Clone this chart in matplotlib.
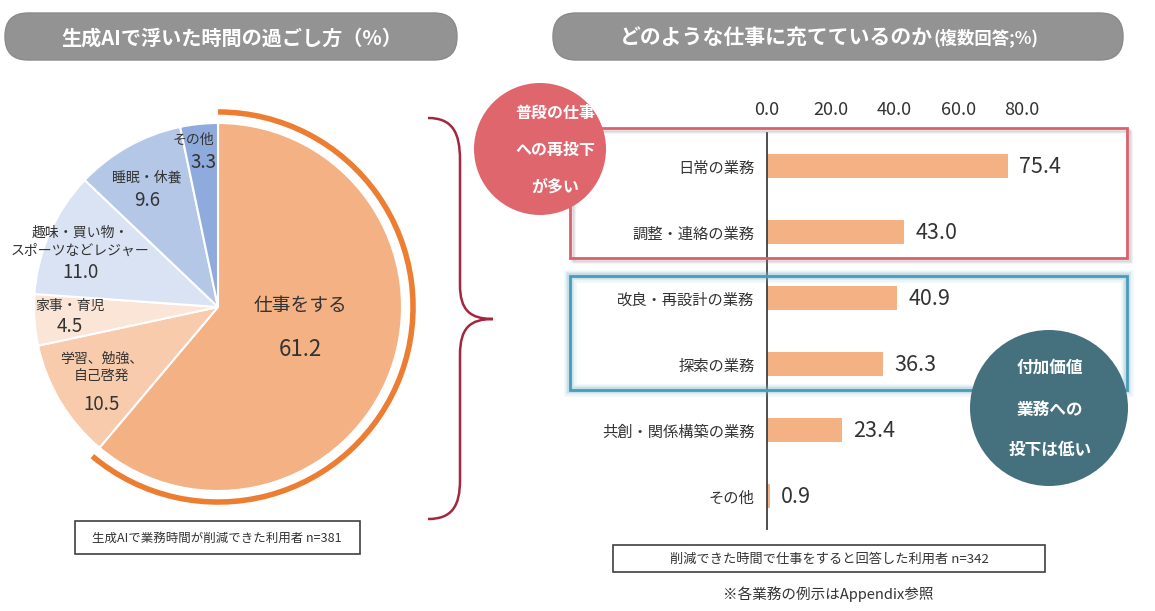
import numpy as np
import matplotlib
matplotlib.use("Agg")
import matplotlib.pyplot as plt
from matplotlib.patches import FancyBboxPatch, Rectangle, Ellipse, Wedge, PathPatch
from matplotlib.path import Path

plt.rcParams['font.family'] = ['Noto Sans CJK JP', 'DejaVu Sans']

# 左: 生成AIで浮いた時間の過ごし方（%）
pie_labels = ["仕事をする", "学習、勉強、\n自己啓発", "家事・育児",
              "趣味・買い物・\nスポーツなどレジャー", "睡眠・休養", "その他"]
pie_values = [61.2, 10.5, 4.5, 11.0, 9.6, 3.3]
pie_colors = ["#F4B183", "#F8CBAD", "#FBE5D6", "#DAE3F3", "#B4C7E7", "#8FAADC"]

# 右: どのような仕事に充てているのか（複数回答;%）
bar_labels = ["日常の業務", "調整・連絡の業務", "改良・再設計の業務",
              "探索の業務", "共創・関係構築の業務", "その他"]
bar_values = [75.4, 43.0, 40.9, 36.3, 23.4, 0.9]
x_ticks = [0, 20, 40, 60, 80]

W, H = 1155, 611
fig = plt.figure(figsize=(W / 100, H / 100), dpi=100)


def fx(px):
    return px / W


def fy(py):
    return 1 - py / H


txt = "#333333"

# ---- 円グラフ ----
cx, cy, r_px, half = 218, 307, 184, 210
axp = fig.add_axes([fx(cx - half), fy(cy + half), 2 * half / W, 2 * half / H])
lim = half / r_px
axp.pie(pie_values, colors=pie_colors, startangle=90, counterclock=False,
        radius=1.0, wedgeprops=dict(edgecolor="white", linewidth=1.5))
axp.set_xlim(-lim, lim)
axp.set_ylim(-lim, lim)
axp.set_aspect("equal")
axp.axis("off")
# 仕事をする の外側の強調アーク
axp.add_patch(Wedge((0, 0), 1.075, 90 - pie_values[0] * 360 / sum(pie_values), 90,
                    width=0.03, facecolor="#ED7D31", edgecolor="none"))

# ---- 棒グラフ ----
top, bottom = 133, 529
x0_px, x100_px = 767, 1086
axb = fig.add_axes([fx(x0_px), fy(bottom), (x100_px - x0_px) / W, (bottom - top) / H])
ypos = np.arange(len(bar_values))
axb.barh(ypos, bar_values, height=0.36, color="#F4B183")
axb.set_xlim(0, 100)
axb.set_ylim(len(bar_values) - 0.5, -0.5)
axb.set_yticks(ypos)
axb.set_yticklabels(bar_labels, fontsize=11, color=txt)
axb.xaxis.tick_top()
axb.set_xticks(x_ticks)
axb.set_xticklabels([f"{v:.1f}" for v in x_ticks], fontsize=13, color=txt)
axb.tick_params(axis="x", length=0, pad=10)
axb.tick_params(axis="y", length=0, pad=9)
for s in ["top", "right", "bottom"]:
    axb.spines[s].set_visible(False)
axb.spines["left"].set_color("#404040")
axb.spines["left"].set_linewidth(1.3)
axb.patch.set_alpha(0)
for i, v in enumerate(bar_values):
    axb.annotate(f"{v:.1f}", xy=(v, i), xytext=(8, -1), textcoords="offset points",
                 ha="left", va="center", fontsize=15.5, color=txt)

# ---- 注釈レイヤー（ピクセル座標） ----
ov = fig.add_axes([0, 0, 1, 1])
ov.set_xlim(0, W)
ov.set_ylim(H, 0)
ov.axis("off")
ov.patch.set_alpha(0)
ov.set_zorder(5)

# 見出し
for x, w in [(5, 452), (553, 570)]:
    ov.add_patch(FancyBboxPatch((x, 13), w, 47, boxstyle="round,pad=0,rounding_size=23",
                                facecolor="#939393", edgecolor="#8a8a8a", lw=1))
ov.text(232, 38, "生成AIで浮いた時間の過ごし方（%）", ha="center", va="center",
        fontsize=14.5, fontweight="bold", color="white")
t1 = ov.text(620, 38, "どのような仕事に充てているのか", ha="left", va="center",
             fontsize=15, fontweight="bold", color="white")
ov.annotate("(複数回答;%)", xy=(1, 0.5), xycoords=t1, ha="left", va="center",
            fontsize=12.5, fontweight="bold", color="white")

# 円グラフのラベル
ov.text(300, 305, pie_labels[0], ha="center", va="center", fontsize=13.5, color=txt)
ov.text(300, 349, f"{pie_values[0]:.1f}", ha="center", va="center", fontsize=16, color=txt)
label_pos = [(102, 368, 404), (70, 306, 327), (80, 242, 273), (147, 178, 200), (193, 140, 163)]
for (lx, ly, vy), lab, val in zip(label_pos, pie_labels[1:], pie_values[1:]):
    ov.text(lx, ly, lab, ha="center", va="center", fontsize=10, color=txt, linespacing=1.35)
    ov.text(lx + (10 if lab == "その他" else 0), vy, f"{val:.1f}", ha="center", va="center",
            fontsize=13.5, color=txt)

# 注記ボックス
ov.add_patch(Rectangle((75, 521), 285, 33, facecolor="white", edgecolor="#404040", lw=1.2))
ov.text(217, 538, "生成AIで業務時間が削減できた利用者 n=381", ha="center", va="center",
        fontsize=9, color=txt)
ov.add_patch(Rectangle((613, 545), 432, 27, facecolor="white", edgecolor="#404040", lw=1.2))
ov.text(829, 559, "削減できた時間で仕事をすると回答した利用者 n=342", ha="center", va="center",
        fontsize=9.5, color=txt)
ov.text(828, 594, "※各業務の例示はAppendix参照", ha="center", va="center",
        fontsize=10.5, color=txt)

# 波括弧
verts = [(428, 118), (452, 118), (460, 132), (460, 160), (460, 285),
         (460, 310), (470, 319), (493, 319),
         (470, 319), (460, 328), (460, 355), (460, 480),
         (460, 506), (452, 519), (428, 519)]
codes = [Path.MOVETO, Path.CURVE4, Path.CURVE4, Path.CURVE4, Path.LINETO,
         Path.CURVE4, Path.CURVE4, Path.CURVE4,
         Path.CURVE4, Path.CURVE4, Path.CURVE4, Path.LINETO,
         Path.CURVE4, Path.CURVE4, Path.CURVE4]
ov.add_patch(PathPatch(Path(verts, codes), facecolor="none", edgecolor="#A3283E", lw=1.8))

# 強調枠（影付き）
for dx, a in [(4, 0.10), (3, 0.12), (2, 0.15)]:
    ov.add_patch(Rectangle((570 + dx, 128 + dx), 557, 130, facecolor="none",
                           edgecolor="#888888", lw=2, alpha=a))
ov.add_patch(Rectangle((570, 128), 557, 130, facecolor="none", edgecolor="#DE5F6C", lw=2))
for lw, a in [(9, 0.12), (6, 0.18), (4, 0.25)]:
    ov.add_patch(Rectangle((570, 276), 557, 114, facecolor="none",
                           edgecolor="#7FB8CC", lw=lw, alpha=a))
ov.add_patch(Rectangle((570, 276), 557, 114, facecolor="none", edgecolor="#4A9BB8", lw=2))

# 吹き出し円
ov.add_patch(Ellipse((540, 149), 132, 132, facecolor="#E0666E", edgecolor="none"))
for y, s in zip([113, 150, 187], ["普段の仕事", "への再投下", "が多い"]):
    ov.text(555, y, s, ha="center", va="center",
            fontsize=11.5, fontweight="bold", color="white")
ov.add_patch(Ellipse((1049, 408), 158, 156, facecolor="#45717F", edgecolor="none"))
for y, s in zip([368, 410, 450], ["付加価値", "業務への", "投下は低い"]):
    ov.text(1050, y, s, ha="center", va="center", fontsize=12, fontweight="bold", color="white")

fig.savefig("out.png", dpi=100)
